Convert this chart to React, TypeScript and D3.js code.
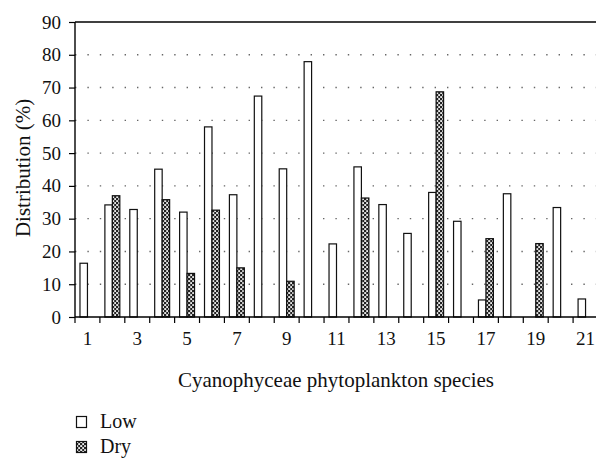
import React, { useRef, useEffect } from "react";
import { select, scaleBand, scaleLinear, axisLeft, range } from "d3";

// species number on the x axis
const species = range(1, 22).map(String);
const seasons = ["Low", "Dry"];

// distribution (%), null = no bar
const lowValues = [16.4, 34.2, 32.8, 45.1, 32.0, 58.0, 37.3, 67.4, 45.2, 77.9, 22.3, 45.8, 34.3, 25.5, 38.0, 29.2, 5.2, 37.6, null, 33.4, 5.5];
const dryValues = [null, 37.0, null, 35.8, 13.3, 32.6, 15.0, null, 10.9, null, null, 36.3, null, null, 68.7, null, 23.9, null, 22.4, null, null];

const yTicks = [0, 10, 20, 30, 40, 50, 60, 70, 80, 90];

const W = 596;
const H = 458;
const left = 75;
const right = 598;
const top = 22;
const bottom = 317;
const font = "Liberation Serif, Times New Roman, DejaVu Serif, serif";

function App() {
  const yAxisRef = useRef<SVGGElement>(null);

  const x = scaleBand().domain(species).range([left, right]).paddingInner(0).paddingOuter(0);
  const xSub = scaleBand().domain(seasons).range([0, x.bandwidth()]).paddingInner(0).paddingOuter(0.667);
  const y = scaleLinear().domain([0, 90]).range([bottom, top]);

  useEffect(() => {
    const g = select(yAxisRef.current);
    g.call(axisLeft(y).tickValues(yTicks).tickSize(6).tickPadding(8).tickFormat((d) => String(d)) as any);
    g.attr("font-family", null).attr("font-size", null);
    g.select(".domain").remove();
    g.selectAll(".tick line").attr("stroke", "#000").attr("stroke-width", 1.2);
    g.selectAll(".tick text")
      .style("font-family", font)
      .style("font-size", "19px")
      .attr("fill", "#111");
  }, []);

  const bars = [
    ...lowValues.map((v, i) => ({ key: "Low", i, v })),
    ...dryValues.map((v, i) => ({ key: "Dry", i, v })),
  ].filter((d) => d.v !== null) as { key: string; i: number; v: number }[];

  const boundaries = range(0, species.length + 1).map((i) => left + i * x.step());
  const tick = { fontFamily: font, fontSize: "19px" };
  const title = { fontFamily: font, fontSize: "21px" };
  const legend = { fontFamily: font, fontSize: "20px" };

  return (
    <svg width={W} height={H} style={{ position: "absolute", left: 0, top: 0 }}>
      <defs>
        <pattern id="dryPat" width={4} height={4} patternUnits="userSpaceOnUse">
          <rect width={4} height={4} fill="#222" />
          <rect x={0.2} y={0.2} width={2} height={1.7} fill="#fff" />
          <rect x={2.2} y={2.2} width={2} height={1.7} fill="#fff" />
        </pattern>
      </defs>
      <rect width={W} height={H} fill="#fff" />

      {/* dotted grid */}
      {yTicks.slice(1, -1).map((t) => (
        <line key={t} x1={left} x2={W} y1={y(t)} y2={y(t)} stroke="#666" strokeWidth={1.4} strokeDasharray="1.4 11" />
      ))}
      {/* top border */}
      <line x1={left} x2={W} y1={top} y2={top} stroke="#000" strokeWidth={1.4} />

      {bars.map((d) => (
        <rect
          key={d.key + d.i}
          x={(x(species[d.i]) ?? 0) + (xSub(d.key) ?? 0)}
          y={y(d.v)}
          width={xSub.bandwidth()}
          height={bottom - y(d.v)}
          fill={d.key === "Low" ? "#fff" : "url(#dryPat)"}
          stroke="#111"
          strokeWidth={1.2}
        />
      ))}

      {/* axes */}
      <line x1={left} x2={left} y1={top} y2={bottom} stroke="#000" strokeWidth={1.4} />
      <line x1={left} x2={W} y1={bottom} y2={bottom} stroke="#000" strokeWidth={1.4} />
      {boundaries.map((bx, i) => (
        <line key={i} x1={bx} x2={bx} y1={bottom} y2={bottom + 6} stroke="#000" strokeWidth={1.2} />
      ))}
      {species.map((s, i) =>
        i % 2 === 0 ? (
          <text key={s} x={(x(s) ?? 0) + x.bandwidth() / 2} y={345} textAnchor="middle" style={tick} fill="#111">
            {s}
          </text>
        ) : null
      )}
      <g ref={yAxisRef} transform={`translate(${left},0)`} />

      <text x={336} y={387} textAnchor="middle" style={title} fill="#111">
        Cyanophyceae phytoplankton species
      </text>
      <text transform={`translate(30,168) rotate(-90)`} textAnchor="middle" style={title} fill="#111">
        Distribution (%)
      </text>

      {/* legend */}
      {seasons.map((s, i) => (
        <g key={s} transform={`translate(76,${416 + i * 25})`}>
          <rect x={0.5} y={0.5} width={10} height={11} fill={s === "Low" ? "#fff" : "url(#dryPat)"} stroke="#111" strokeWidth={1.2} />
          <text x={24} y={11.5} style={legend} fill="#111">
            {s}
          </text>
        </g>
      ))}
    </svg>
  );
}

export default App;
